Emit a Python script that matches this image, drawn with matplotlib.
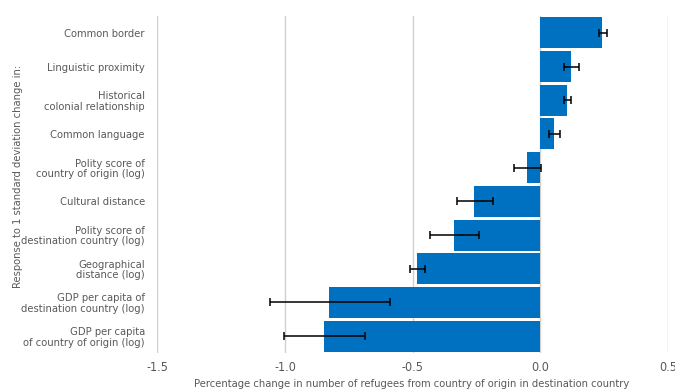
import numpy as np
import matplotlib.pyplot as plt

categories = [
    "Common border",
    "Linguistic proximity",
    "Historical\ncolonial relationship",
    "Common language",
    "Polity score of\ncountry of origin (log)",
    "Cultural distance",
    "Polity score of\ndestination country (log)",
    "Geographical\ndistance (log)",
    "GDP per capita of\ndestination country (log)",
    "GDP per capita\nof country of origin (log)",
]
values = [0.241, 0.119, 0.104, 0.053, -0.053, -0.26, -0.339, -0.484, -0.828, -0.848]
err_low = [0.228, 0.093, 0.093, 0.032, -0.105, -0.327, -0.434, -0.511, -1.060, -1.003]
err_high = [0.262, 0.151, 0.121, 0.078, 0.001, -0.187, -0.240, -0.450, -0.588, -0.687]

xticks = [-1.5, -1.0, -0.5, 0.0, 0.5]
xticklabels = ["-1.5", "-1.0", "-0.5", "0.0", "0.5"]

# narrow look: DejaVu Sans Condensed
plt.rcParams['font.family'] = ['DejaVu Sans']
plt.rcParams['font.stretch'] = 'condensed'
grey = '#595959'
fs = 8

fig = plt.figure(figsize=(6.75, 3.92), dpi=100)
ax = fig.add_axes([0.2333, 0.0995, 0.7563, 0.8595])

y = np.arange(len(categories))
vals = np.array(values)
lo = np.array(err_low)
hi = np.array(err_high)
centers = (lo + hi) / 2
half = (hi - lo) / 2

ax.barh(y, vals, height=0.92, color='#0070C0', zorder=2)
ax.errorbar(centers, y, xerr=half, fmt='none', ecolor='black', elinewidth=1.1,
            capsize=3, capthick=1.1, zorder=3)

ax.set_xlim(-1.5, 0.5)
ax.set_ylim(len(categories) - 0.5, -0.5)
ax.set_xticks(xticks)
ax.set_xticklabels(xticklabels)
ax.set_yticks(y)
ax.set_yticklabels(categories, linespacing=1.05)
ax.tick_params(axis='both', length=0, colors=grey)
ax.tick_params(axis='x', pad=6, labelsize=9)
ax.tick_params(axis='y', pad=9, labelsize=fs)

for s in ax.spines.values():
    s.set_visible(False)
ax.grid(axis='x', color='#d0d0d0', linewidth=1.0, zorder=0)
ax.set_axisbelow(True)

fig.text(0.027, 0.55, "Response to 1 standard deviation change in:", rotation=90,
         ha='center', va='center', fontsize=fs, color=grey)
fig.text(0.61, 0.034, "Percentage change in number of refugees from country of origin in destination country",
         ha='center', va='top', fontsize=fs, color=grey)

fig.savefig('out.png', dpi=100)
